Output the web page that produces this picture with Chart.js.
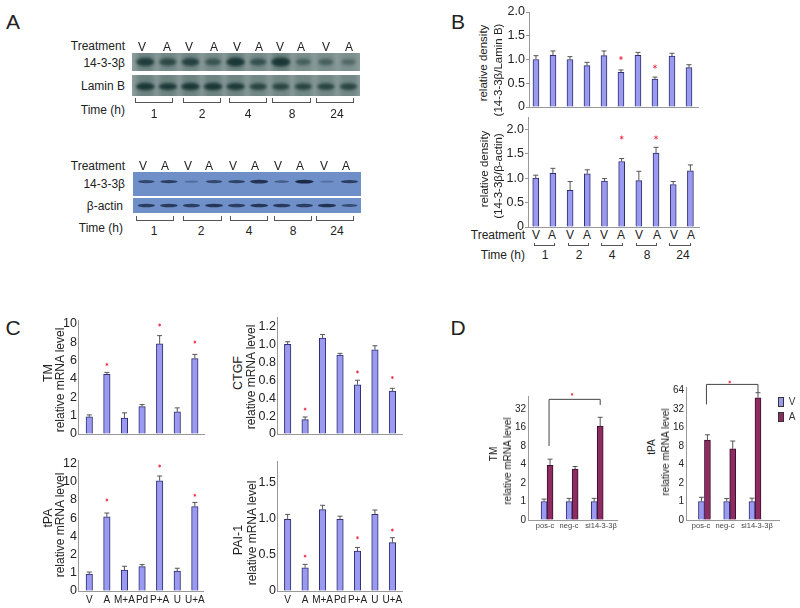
<!DOCTYPE html>
<html>
<head>
<meta charset="utf-8">
<title>14-3-3 beta figure</title>
<script src="https://cdn.jsdelivr.net/npm/chart.js@4/dist/chart.umd.min.js"></script>
<style>
  html, body { margin: 0; padding: 0; background: #fff; }
  #fig { position: relative; width: 800px; height: 608px; overflow: hidden; font-family: "Liberation Sans", Arial, sans-serif; color: #222; }
  #fig canvas { position: absolute; }
  .t { position: absolute; white-space: nowrap; line-height: 1; }
  .brk { position: absolute; border: 1px solid #555; border-top: none; box-sizing: border-box; }
  .key { position: absolute; width: 6px; height: 10px; border: 1px solid #333; box-sizing: border-box; }
</style>
</head>
<body>
<div id="fig"></div>
<script>
// panel A, band strength per lane (0-1)
const lanes = ['V', 'A', 'V', 'A', 'V', 'A', 'V', 'A', 'V', 'A']
const hours = ['1', '2', '4', '8', '24']
const nuclearBeta = [0.85, 0.7, 0.8, 0.55, 0.95, 0.6, 1, 0.4, 0.4, 0.3]
const laminB = [0.95, 0.9, 0.95, 0.95, 0.9, 0.75, 0.75, 0.75, 0.75, 0.75]
const totalBeta = [0.6, 0.7, 0.15, 0.6, 0.65, 0.85, 0.35, 0.95, 0.1, 0.7]
const betaActin = [0.7, 0.75, 0.7, 0.8, 0.7, 0.8, 0.75, 0.7, 0.85, 0.55]

// panel B
const densityTicks = ['0', '0.5', '1.0', '1.5', '2.0']
const laminValues = [1.0, 1.09, 1.0, 0.87, 1.08, 0.73, 1.09, 0.59, 1.07, 0.83]
const laminErrors = [1.08, 1.18, 1.06, 0.94, 1.18, 0.78, 1.15, 0.63, 1.13, 0.89]
const laminStars = [null, null, null, null, null, 1.03, null, 0.85, null, null]
const actinValues = [1.0, 1.1, 0.75, 1.09, 0.94, 1.34, 0.95, 1.51, 0.87, 1.15]
const actinErrors = [1.06, 1.2, 0.93, 1.17, 0.99, 1.4, 1.14, 1.63, 0.93, 1.27]
const actinStars = [null, null, null, null, null, 1.83, null, 1.83, null, null]

// panel C
const drugs = ['V', 'A', 'M+A', 'Pd', 'P+A', 'U', 'U+A']
const tmTicks = ['0', '1', '2', '4', '6', '8', '10']
const tmValues = [0.93, 4.5, 0.87, 1.49, 7.8, 1.2, 6.2]
const tmErrors = [1.04, 4.7, 1.15, 1.6, 8.7, 1.42, 6.66]
const tmStars = [null, 5.56, null, null, 9.86, null, 8.0]
const tpaTicks = ['0', '1', '2', '4', '6', '8', '10', '12']
const tpaValues = [0.93, 6.14, 1.15, 1.34, 10.12, 1.1, 7.27]
const tpaErrors = [1.04, 6.57, 1.36, 1.45, 10.64, 1.25, 7.74]
const tpaStars = [null, 8.0, null, null, 11.74, null, 8.52]
const ctgfTicks = ['0', '0.2', '0.4', '0.6', '0.8', '1.0', '1.2']
const ctgfValues = [1.0, 0.16, 1.07, 0.88, 0.55, 0.94, 0.48]
const ctgfErrors = [1.03, 0.19, 1.11, 0.9, 0.6, 0.985, 0.51]
const ctgfStars = [null, 0.278, null, null, 0.693, null, 0.63]
const paiTicks = ['0', '0.5', '1.0', '1.5']
const paiValues = [0.986, 0.32, 1.12, 0.986, 0.55, 1.055, 0.665]
const paiErrors = [1.055, 0.367, 1.18, 1.03, 0.6, 1.115, 0.734]
const paiStars = [null, 0.48, null, null, 0.734, null, 0.84]

// panel D
const sirna = ['pos-c', 'neg-c', 'si14-3-3β']
const siTmTicks = ['0', '1', '2', '4', '8', '16', '32']
const siTmV = [1, 1, 1]
const siTmVErr = [1.13, 1.17, 1.17]
const siTmA = [3.9, 3.5, 17.3]
const siTmAErr = [5.15, 3.78, 24.8]
const siTmStars = [null, 44.6, null]
const siTmBracket = [40.3, 8, 35.4]
const siTpaTicks = ['0', '1', '2', '4', '8', '16', '32', '64']
const siTpaV = [1, 1, 1]
const siTpaVErr = [1.23, 1.16, 1.18]
const siTpaA = [10.6, 7.4, 51.8]
const siTpaAErr = [12.9, 10.2, 60.5]
const siTpaStars = [null, 79, null]
const siTpaBracket = [74.9, 40.3, 60.5]

const fig = document.getElementById('fig')
const FONT = '"Liberation Sans", Arial, sans-serif'
const BLUE = '#9a9af0', BLUE_EDGE = '#2d2d70', WINE = '#8c2c60', WINE_EDGE = '#3a0f2c'

function text(str, x, y, size, align, color) {
    const d = document.createElement('div')
    d.className = 't'
    d.textContent = str
    d.style.left = x + 'px'
    d.style.top = y + 'px'
    d.style.fontSize = size + 'px'
    if (color) d.style.color = color
    if (align == 'right') d.style.transform = 'translate(-100%,-50%)'
    else if (align == 'rot') d.style.transform = 'translate(-50%,-50%) rotate(-90deg)'
    else d.style.transform = 'translate(-50%,-50%)'
    fig.appendChild(d)
}

function bracket(x1, x2, y, h) {
    const d = document.createElement('div')
    d.className = 'brk'
    d.style.left = x1 + 'px'
    d.style.top = y + 'px'
    d.style.width = (x2 - x1) + 'px'
    d.style.height = h + 'px'
    fig.appendChild(d)
}

function newCanvas(left, top, w, h) {
    const c = document.createElement('canvas')
    c.width = w
    c.height = h
    c.style.left = left + 'px'
    c.style.top = top + 'px'
    c.style.width = w + 'px'
    c.style.height = h + 'px'
    fig.appendChild(c)
    return c
}

// the axes are spaced per tick, whatever the tick's number is
function toPos(v, ticks) {
    const n = ticks.map(Number)
    for (let i = 1; i < n.length; i++) {
        if (v <= n[i] || i == n.length - 1) {
            return i - 1 + (v - n[i - 1]) / (n[i] - n[i - 1])
        }
    }
}

function barChart(o) {
    // xH has to stay above half a y label, or the layout pushes the x axis up
    const yW = 26, pad = 14, xH = o.labels ? 16 : 10
    const [l, t, r, b] = o.plot
    const c = newCanvas(l - yW, t - pad, r - l + yW + 4, b - t + pad + xH)
    const pts = (arr) => arr.map((v, i) => ({ x: i, y: toPos(v, o.ticks) }))
    const datasets = o.series.map(s => ({
        data: pts(s.values),
        backgroundColor: s.color,
        borderColor: s.edge,
        borderWidth: 1,
        barThickness: o.barW || 6
    }))
    const marks = {
        id: 'marks',
        afterDatasetsDraw(chart) {
            const ctx = chart.ctx, x = chart.scales.x, y = chart.scales.y
            ctx.save()
            ctx.strokeStyle = '#555'
            ctx.lineWidth = 1
            o.series.forEach((s, k) => {
                chart.getDatasetMeta(k).data.forEach((bar, i) => {
                    const top = y.getPixelForValue(toPos(s.errors[i], o.ticks))
                    ctx.beginPath()
                    ctx.moveTo(bar.x, bar.y)
                    ctx.lineTo(bar.x, top)
                    ctx.moveTo(bar.x - 2.5, top)
                    ctx.lineTo(bar.x + 2.5, top)
                    ctx.stroke()
                })
            })
            if (o.bracket) {
                const bars = chart.getDatasetMeta(1).data
                const yy = o.bracket.map(v => y.getPixelForValue(toPos(v, o.ticks)))
                ctx.strokeStyle = '#444'
                ctx.beginPath()
                ctx.moveTo(bars[0].x - 1, yy[1])
                ctx.lineTo(bars[0].x - 1, yy[0])
                ctx.lineTo(bars[2].x, yy[0])
                ctx.lineTo(bars[2].x, yy[2])
                ctx.stroke()
            }
            // the significance stars sit above the axis top in panel D, so no line dataset here
            ctx.strokeStyle = '#f0203c'
            ctx.lineWidth = 0.8
            const rad = o.starR || 2
            ;(o.stars || []).forEach((v, i) => {
                if (v === null) return
                const px = x.getPixelForValue(i), py = y.getPixelForValue(toPos(v, o.ticks))
                for (let a = 0; a < 3; a++) {
                    const dx = rad * Math.cos(Math.PI / 2 + a * Math.PI / 3)
                    const dy = rad * Math.sin(Math.PI / 2 + a * Math.PI / 3)
                    ctx.beginPath()
                    ctx.moveTo(px - dx, py - dy)
                    ctx.lineTo(px + dx, py + dy)
                    ctx.stroke()
                }
            })
            ctx.restore()
        }
    }
    const tickMark = o.tickMark === undefined ? 3 : o.tickMark
    new Chart(c, {
        type: 'bar',
        data: { labels: o.labels || [], datasets },
        options: {
            responsive: false,
            animation: false,
            layout: { autoPadding: false, padding: { top: pad, right: 4 } },
            plugins: { legend: { display: false }, tooltip: { enabled: false } },
            scales: {
                x: {
                    type: 'linear',
                    offset: false,
                    min: o.xRange[0],
                    max: o.xRange[1],
                    grid: { display: false, drawTicks: false },
                    border: { color: '#999' },
                    afterFit: s => { s.height = xH },
                    ticks: {
                        display: !!o.labels,
                        stepSize: 1,
                        includeBounds: false,
                        autoSkip: false,
                        maxRotation: 0,
                        padding: 3,
                        color: '#222',
                        font: { family: FONT, size: 10 },
                        callback: v => (o.labels ? o.labels[v] : '')
                    }
                },
                y: {
                    min: 0,
                    max: o.yTop,
                    grid: { drawOnChartArea: false, drawTicks: tickMark > 0, tickLength: tickMark, color: '#999' },
                    border: { color: '#999' },
                    afterFit: s => { s.width = yW },
                    ticks: {
                        stepSize: 1,
                        includeBounds: false,
                        autoSkip: false,
                        padding: o.tickPad === undefined ? 1 : o.tickPad,
                        color: '#222',
                        font: { family: FONT, size: o.tickSize || 12.5 },
                        callback: v => o.ticks[v]
                    }
                }
            }
        },
        plugins: [marks]
    })
}

// a blot strip: lane centres come from the x scale, band darkness from the array
function blotChart(o) {
    const [l, t, r, b] = o.box
    const c = newCanvas(l, t, r - l, b - t)
    const blot = {
        id: 'blot',
        beforeDatasetsDraw(chart) {
            const ctx = chart.ctx, x = chart.scales.x, y = chart.scales.y
            const a = chart.chartArea
            ctx.save()
            ctx.fillStyle = o.bg
            ctx.fillRect(a.left, a.top, a.right - a.left, a.bottom - a.top)
            ctx.beginPath()
            ctx.rect(a.left, a.top, a.right - a.left, a.bottom - a.top)
            ctx.clip()
            o.bands.forEach((v, i) => {
                const cx = x.getPixelForValue(i), cy = y.getPixelForValue(o.bandY)
                if (o.halo) {
                    ctx.filter = 'blur(2.5px)'
                    ctx.globalAlpha = 0.5 * v + 0.25
                    ctx.fillStyle = o.halo
                    ctx.fillRect(cx - 9, a.top - 3, 18, b - t + 6)
                }
                ctx.filter = 'blur(' + o.blur + 'px)'
                ctx.globalAlpha = Math.min(1, 0.2 + 0.85 * v)
                ctx.fillStyle = o.ink
                ctx.beginPath()
                ctx.ellipse(cx, cy, 6.5 + 3 * v, o.bandH * (0.5 + 0.5 * v), 0, 0, 7)
                ctx.fill()
            })
            ctx.restore()
        }
    }
    new Chart(c, {
        type: 'scatter',
        data: { datasets: [{ data: [] }] },
        options: {
            responsive: false,
            animation: false,
            layout: { autoPadding: false },
            plugins: { legend: { display: false }, tooltip: { enabled: false } },
            scales: {
                x: { type: 'linear', min: o.xRange[0], max: o.xRange[1], display: false },
                y: { min: 0, max: 1, display: false }
            }
        },
        plugins: [blot]
    })
}

// panel letters
text('A', 13, 21, 21)
text('B', 458, 21, 21)
text('C', 13, 327, 21)
text('D', 458, 327, 21)

// panel A, top blot
const greenBlot = { xRange: [-0.59, 9.51], bg: '#8f9f9e', halo: '#5f7876', ink: '#1a3735', blur: 1.5 }
blotChart({ ...greenBlot, box: [132, 53, 360, 71], bands: nuclearBeta, bandY: 0.5, bandH: 4.5 })
blotChart({ ...greenBlot, box: [132, 75, 360, 96], bands: laminB, bandY: 0.45, bandH: 3.8 })
const blueBlot = { xRange: [-0.59, 9.51], bg: '#6f8fc8', ink: '#1b2a48', blur: 0.7 }
blotChart({ ...blueBlot, box: [133, 172, 361, 196], bands: totalBeta, bandY: 0.6, bandH: 2 })
blotChart({ ...blueBlot, box: [133, 198, 361, 213], bands: betaActin, bandY: 0.5, bandH: 2 })

text('Treatment', 125, 46, 12, 'right')
text('14-3-3β', 125, 63, 12, 'right')
text('Lamin B', 125, 86, 12, 'right')
text('Time (h)', 125, 109.5, 12, 'right')
text('Treatment', 125, 165.5, 12, 'right')
text('14-3-3β', 125, 184, 12, 'right')
text('β-actin', 123, 206, 12, 'right')
text('Time (h)', 123, 228, 12, 'right')
text('Treatment', 525, 235, 12, 'right')
text('Time (h)', 525, 255, 12, 'right')

lanes.forEach((s, i) => {
    text(s, [142, 167, 189, 214, 237, 259, 280, 301, 326, 349][i], 46.5, 12)
    text(s, [143, 165, 188, 209, 233, 255, 278, 300, 324, 346][i], 166, 12)
    text(s, [536, 552, 570, 587, 604, 621, 639, 657, 674, 691][i], 235, 12)
})
hours.forEach((s, i) => {
    text(s, [154, 202, 248, 292, 337][i], 113.5, 12)
    text(s, [154, 201, 249, 293, 337][i], 231, 12)
    text(s, [545, 579, 612, 647, 683][i], 255, 12)
})
;[[135, 173], [183, 221], [229, 267], [272, 311], [316, 354]].forEach(p => bracket(p[0], p[1], 98, 5))
;[[136, 174], [183, 222], [230, 268], [274, 312], [316, 354]].forEach(p => bracket(p[0], p[1], 216, 5))
;[[534, 555], [568, 589], [601, 623], [636, 657], [669, 691]].forEach(p => bracket(p[0], p[1], 243, 3))

// panel B
barChart({
    plot: [529, 12, 698, 107], xRange: [-0.41, 9.53], ticks: densityTicks, yTop: 4,
    series: [{ values: laminValues, errors: laminErrors, color: BLUE, edge: BLUE_EDGE }],
    stars: laminStars
})
barChart({
    plot: [528, 117, 699, 227], xRange: [-0.45, 9.5], ticks: densityTicks, yTop: 4.5,
    series: [{ values: actinValues, errors: actinErrors, color: BLUE, edge: BLUE_EDGE }],
    stars: actinStars
})
text('relative density', 483.5, 63, 11.5, 'rot')
text('(14-3-3β/Lamin B)', 498.5, 70, 11.5, 'rot')
text('relative density', 485, 169, 11.5, 'rot')
text('(14-3-3β/β-actin)', 499, 176, 11.5, 'rot')

// panel C
const panelC = { barW: 6.5, starR: 1.5, tickMark: 0, tickPad: 1 }
barChart({
    ...panelC, plot: [78, 320, 204, 434], xRange: [-0.64, 6.52], ticks: tmTicks, yTop: 6.2,
    series: [{ values: tmValues, errors: tmErrors, color: BLUE, edge: BLUE_EDGE }],
    stars: tmStars
})
barChart({
    ...panelC, plot: [78, 460, 204, 591], xRange: [-0.64, 6.52], ticks: tpaTicks, yTop: 7.2, labels: drugs,
    series: [{ values: tpaValues, errors: tpaErrors, color: BLUE, edge: BLUE_EDGE }],
    stars: tpaStars
})
barChart({
    ...panelC, plot: [277, 317, 402, 434], xRange: [-0.61, 6.55], ticks: ctgfTicks, yTop: 6.53,
    series: [{ values: ctgfValues, errors: ctgfErrors, color: BLUE, edge: BLUE_EDGE }],
    stars: ctgfStars
})
barChart({
    ...panelC, plot: [277, 461, 402, 591], xRange: [-0.61, 6.55], ticks: paiTicks, yTop: 3.58, labels: drugs,
    series: [{ values: paiValues, errors: paiErrors, color: BLUE, edge: BLUE_EDGE }],
    stars: paiStars
})
text('TM', 47.5, 373, 12.5, 'rot')
text('relative mRNA level', 60, 380, 12, 'rot')
text('tPA', 47.5, 518, 12.5, 'rot')
text('relative mRNA level', 60, 525, 12, 'rot')
text('CTGF', 238, 373, 12.5, 'rot')
text('relative mRNA level', 251, 377, 12, 'rot')
text('PAI-1', 238, 540, 12.5, 'rot')
text('relative mRNA level', 252, 533, 12, 'rot')

// panel D, its x labels do not sit quite under the groups so they are placed by hand
const panelD = { tickSize: 10, tickMark: 0, tickPad: 2, starR: 1.3 }
barChart({
    ...panelD, plot: [528, 396, 617, 520], xRange: [-0.76, 2.79], ticks: siTmTicks, yTop: 6.7,
    series: [
        { values: siTmV, errors: siTmVErr, color: BLUE, edge: BLUE_EDGE },
        { values: siTmA, errors: siTmAErr, color: WINE, edge: WINE_EDGE }
    ],
    stars: siTmStars, bracket: siTmBracket
})
barChart({
    ...panelD, plot: [686, 387, 779, 520], xRange: [-0.73, 2.95], ticks: siTpaTicks, yTop: 7.2,
    series: [
        { values: siTpaV, errors: siTpaVErr, color: BLUE, edge: BLUE_EDGE },
        { values: siTpaA, errors: siTpaAErr, color: WINE, edge: WINE_EDGE }
    ],
    stars: siTpaStars, bracket: siTpaBracket
})
sirna.forEach((s, i) => {
    text(s, [545, 569, 601][i], 525.5, 7.5, null, '#444')
    text(s, [701, 725, 757][i], 525.5, 7.5, null, '#444')
})
text('TM', 494, 454, 10, 'rot')
text('relative mRNA level', 508, 461, 10, 'rot')
text('tPA', 652, 447, 10, 'rot')
text('relative mRNA level', 666, 452, 10, 'rot')

// legend of panel D
;[[BLUE, 397, 'V'], [WINE, 412, 'A']].forEach(k => {
    const d = document.createElement('div')
    d.className = 'key'
    d.style.left = '778px'
    d.style.top = k[1] + 'px'
    d.style.background = k[0]
    fig.appendChild(d)
    text(k[2], 792, k[1] + 5, 10, null, '#333')
})
</script>
</body>
</html>
